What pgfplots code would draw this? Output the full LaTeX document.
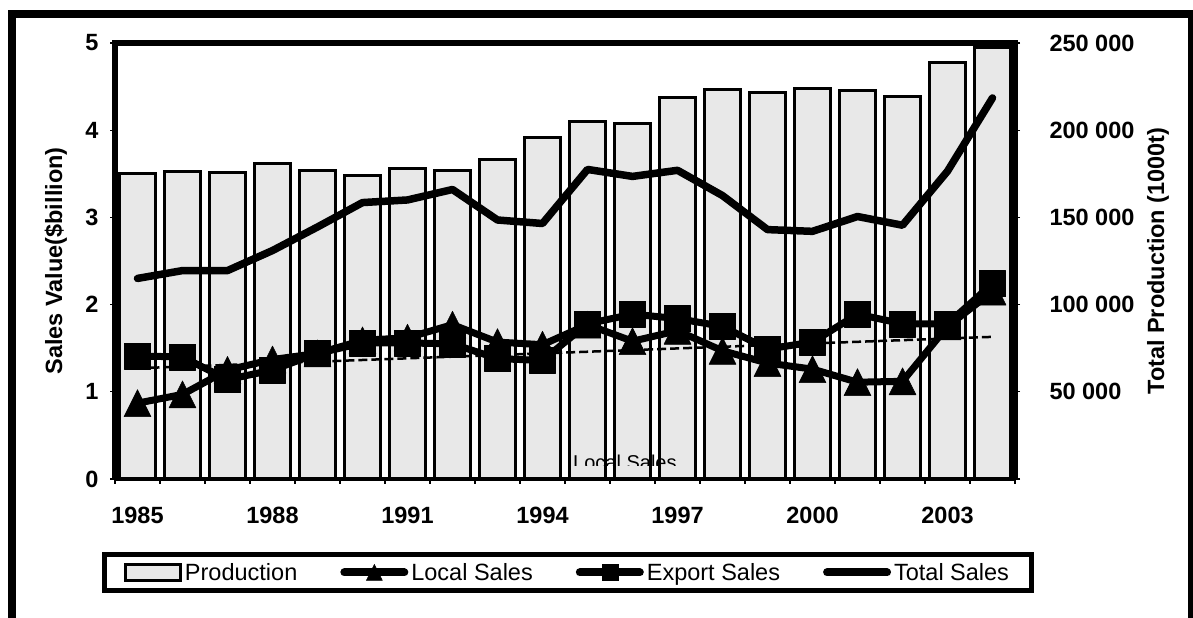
\documentclass[border=0pt]{standalone}
\usepackage{fontspec}
\setmainfont{Liberation Sans}
\usepackage{pgfplots}
\usepackage{pgfplotstable}
\pgfplotsset{compat=1.18}

% triangle marker with apex up, centred on its bounding box
\pgfdeclareplotmark{xltri}{%
  \pgfpathmoveto{\pgfqpoint{0pt}{\pgfplotmarksize}}%
  \pgfpathlineto{\pgfqpoint{\pgfplotmarksize}{-\pgfplotmarksize}}%
  \pgfpathlineto{\pgfqpoint{-\pgfplotmarksize}{-\pgfplotmarksize}}%
  \pgfpathclose
  \pgfusepathqfillstroke}

% production in 1000 t, sales in $ billion
\pgfplotstableread{
idx prod  local export total
0   175.0 0.87  1.41   2.30
1   176.2 0.97  1.40   2.39
2   175.5 1.25  1.14   2.39
3   180.8 1.37  1.25   2.62
4   177.0 1.44  1.44   2.89
5   174.3 1.59  1.56   3.17
6   177.8 1.62  1.56   3.20
7   176.6 1.77  1.55   3.32
8   183.2 1.57  1.38   2.97
9   195.8 1.54  1.36   2.93
10  204.9 1.77  1.78   3.55
11  204.1 1.58  1.89   3.47
12  218.7 1.70  1.84   3.54
13  223.2 1.47  1.75   3.25
14  221.6 1.33  1.49   2.86
15  224.1 1.26  1.57   2.84
16  223.0 1.11  1.89   3.01
17  219.5 1.12  1.78   2.91
18  238.7 1.75  1.78   3.53
19  247.5 2.15  2.24   4.37
}\salesdata

% linear trend of local sales
\pgfplotstableread{
idx trend
0   1.27
19  1.63
}\trenddata

\newcommand\tickfont{\bfseries\fontsize{23.5bp}{28bp}\selectfont}
\newcommand\legfont{\fontsize{23.5bp}{28bp}\selectfont}

\pgfplotsset{
  salesframe/.style={
    at={(115bp,139bp)}, anchor=south west,
    width=900bp, height=436bp, scale only axis,
    xmin=-0.5, xmax=19.5,
    axis line style={draw=none},
    tick align=outside, major tick length=5bp,
    every tick/.style={black, line width=1.2bp},
    tick label style={font=\tickfont},
    label style={font=\tickfont},
    clip=false,
    /pgf/number format/assume math mode=true,
  },
  xlline/.style={legend image code/.code={%
    \draw[mark repeat=2,mark phase=2,##1] plot coordinates {(0bp,0bp) (30bp,0bp) (60bp,0bp)};}},
  xlbar/.style={legend image code/.code={%
    \draw[##1] (0bp,-8bp) rectangle (55bp,8bp);}},
}

\begin{document}
\begin{tikzpicture}[x=1bp,y=1bp]
\useasboundingbox (0,0) rectangle (1193,618);

% production bars on the right-hand scale
\begin{axis}[salesframe,
  ymin=0, ymax=250,
  ytick={0,50,...,250},
  yticklabels={,50 000,100 000,150 000,200 000,250 000},
  ytick pos=right, yticklabel pos=right,
  yticklabel style={xshift=26bp},
  xtick=\empty,
  ylabel={Total Production (1000t)},
  ylabel style={at={(axis description cs:1.159,0.5)}, anchor=center},
]
\addplot[ybar, bar width=35.5bp, bar shift=0pt, fill=black!9, draw=black, line width=3bp]
  table[x=idx, y=prod]{\salesdata};
\end{axis}

% sales lines on the left-hand scale
\begin{axis}[salesframe,
  ymin=0, ymax=5,
  ytick={0,...,5}, ytick pos=left,
  yticklabel style={xshift=-8bp},
  xtick={-0.5,0.5,...,19.5}, xticklabels={}, xtick pos=bottom,
  extra x ticks={0,3,...,18},
  extra x tick labels={1985,1988,1991,1994,1997,2000,2003},
  extra x tick style={major tick length=0pt, tick label style={yshift=-25bp}},
  ylabel={Sales Value(\$billion)},
  ylabel style={at={(axis description cs:-0.0656,0.5)}, anchor=center},
  legend columns=4,
  legend style={at={(axis description cs:-0.0139,-0.262)}, anchor=south west,
    draw=black, line width=5bp, fill=white,
    inner xsep=19bp, inner ysep=6bp, font=\legfont,
    nodes={inner sep=3bp},
    /tikz/every even column/.append style={column sep=40bp}},
]
\addlegendimage{xlbar, fill=black!9, draw=black, line width=3bp}
\addlegendentry{Production}
\addlegendimage{xlline, black, line width=8bp, line cap=round, mark=xltri, mark size=8bp, mark options={solid, line width=0.5bp, fill=black}}
\addlegendentry{Local Sales}
\addlegendimage{xlline, black, line width=8bp, line cap=round, mark=square*, mark size=8bp, mark options={solid, line width=0.5bp, fill=black}}
\addlegendentry{Export Sales}
\addlegendimage{xlline, black, line width=8bp, line cap=round}
\addlegendentry{Total Sales}

\addplot[black, line width=2.5bp, dash pattern=on 9bp off 4bp, forget plot]
  table[x=idx, y=trend]{\trenddata};
\addplot[black, line width=7.5bp, line cap=round, line join=round, forget plot]
  table[x=idx, y=total]{\salesdata};
\addplot[black, line width=7bp, line join=round, mark=xltri, mark size=13.5bp,
  mark options={solid, line width=0.5bp, fill=black}, forget plot]
  table[x=idx, y=local]{\salesdata};
\addplot[black, line width=7bp, line join=round, mark=square*, mark size=13bp,
  mark options={solid, line width=0.5bp, fill=black}, forget plot]
  table[x=idx, y=export]{\salesdata};

% plot frame
\draw[line width=6.5bp] (rel axis cs:0,0) -- (rel axis cs:0,1) -- (rel axis cs:1,1) -- (rel axis cs:1,0);
\draw[line width=4.5bp] (rel axis cs:0,0) -- (rel axis cs:1,0);
\end{axis}

% label partly hidden along the bottom of the plot
\begin{scope}
  \clip (560,152) rectangle (700,178);
  \node[anchor=north west, inner sep=0pt, font=\fontsize{20bp}{24bp}\selectfont, text=black]
    at (573,163) {Local Sales};
\end{scope}

% outer border
\draw[line width=8bp] (12.2,-20) -- (12.2,603.8) -- (1191.5,603.8) -- (1191.5,-20);
\end{tikzpicture}
\end{document}
